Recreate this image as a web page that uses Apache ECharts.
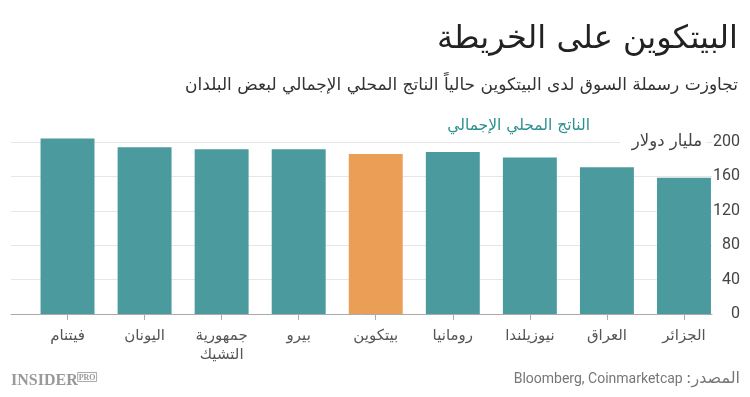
<!DOCTYPE html>
<html>
<head>
<meta charset="utf-8">
<script src="https://cdn.jsdelivr.net/npm/echarts@6/dist/echarts.min.js"></script>
<style>
  html, body { margin: 0; padding: 0; background: #fff; }
  #chart { width: 750px; height: 397px; }
</style>
</head>
<body>
<div id="chart" dir="rtl"></div>
<script>
// الناتج المحلي الإجمالي (مليار دولار) مقابل رسملة البيتكوين
const countries = ['فيتنام', 'اليونان', 'جمهورية\nالتشيك', 'بيرو', 'بيتكوين', 'رومانيا', 'نيوزيلندا', 'العراق', 'الجزائر'];
const gdpValues = [204, 194, 191.5, 191.5, 186, 188.5, 182, 170.5, 158.5];
const highlightName = 'بيتكوين';
const yTicks = [0, 40, 80, 120, 160, 200];

const TEAL = '#4a9a9e';
const ORANGE = '#eb9e55';
const AR_FONT = "'DejaVu Sans', sans-serif";
const NUM_FONT = "Roboto, 'DejaVu Sans', sans-serif";

const chart = echarts.init(document.getElementById('chart'), null, { renderer: 'canvas' });

const yMax = yTicks[yTicks.length - 1];
const yStep = yTicks[1] - yTicks[0];

chart.setOption({
    animation: false,
    backgroundColor: '#fff',
    grid: [
        // wide grid: gridlines, baseline and y labels
        { left: 11, right: 38, top: 142, bottom: 83 },
        // bar grid
        { left: 29, right: 27.5, top: 142, bottom: 83 }
    ],
    xAxis: [
        {
            gridIndex: 0, type: 'value', min: 0, max: 1,
            axisLine: { show: true, lineStyle: { color: '#aaa', width: 1 } },
            axisTick: { show: false }, axisLabel: { show: false }, splitLine: { show: false }
        },
        {
            gridIndex: 1, type: 'category', data: countries,
            axisLine: { show: false },
            axisTick: { show: true, alignWithLabel: true, length: 6, lineStyle: { color: '#aaa' } },
            axisLabel: {
                color: '#555', fontSize: 15, fontFamily: AR_FONT, margin: 13,
                lineHeight: 19, interval: 0, verticalAlign: 'top'
            },
            splitLine: { show: false }
        }
    ],
    yAxis: [
        {
            gridIndex: 0, type: 'value', position: 'right', min: 0, max: yMax, interval: yStep,
            axisLine: { show: false }, axisTick: { show: false },
            axisLabel: { color: '#444', fontSize: 16, fontFamily: NUM_FONT, align: 'right', margin: 28 },
            splitLine: { show: true, lineStyle: { color: '#e6e6e6', width: 1 } }
        },
        {
            gridIndex: 1, type: 'value', min: 0, max: yMax, interval: yStep, show: false,
            splitLine: { show: false }
        }
    ],
    series: [{
        type: 'bar',
        xAxisIndex: 1, yAxisIndex: 1,
        clip: false,
        barWidth: '70%',
        data: countries.map((c, i) => ({
            value: gdpValues[i],
            itemStyle: { color: c === highlightName ? ORANGE : TEAL }
        }))
    }],
    graphic: [
        {
            type: 'text', right: 12, top: 24, z: 10,
            style: { text: 'البيتكوين على الخريطة', fill: '#222', font: "32px " + AR_FONT }
        },
        {
            type: 'text', right: 12, top: 77, z: 10,
            style: { text: 'تجاوزت رسملة السوق لدى البيتكوين حالياً الناتج المحلي الإجمالي لبعض البلدان', fill: '#333', font: "17px " + AR_FONT }
        },
        {
            type: 'text', right: 160, top: 118, z: 10,
            style: { text: 'الناتج المحلي الإجمالي', fill: '#2c9090', font: "15.5px " + AR_FONT }
        },
        {
            type: 'text', x: 706, y: 142, z: 10,
            style: {
                text: 'مليار دولار', fill: '#444', font: "16.5px " + AR_FONT,
                align: 'right', verticalAlign: 'middle',
                backgroundColor: '#fff', padding: [2, 4, 2, 12]
            }
        },
        {
            // rich segments are laid out left to right, so the Arabic part goes last
            type: 'text', right: 10, top: 371, z: 10,
            style: {
                text: '{en|Bloomberg, Coinmarketcap} {ar|المصدر:}',
                rich: {
                    ar: { fill: '#777', font: "16px " + AR_FONT },
                    en: { fill: '#777', font: "14px " + NUM_FONT }
                }
            }
        },
        {
            type: 'text', left: 11, top: 372, z: 10,
            style: {
                text: '{a|INSIDER}{b|PRO}',
                rich: {
                    a: { fill: '#999', font: "bold 16px 'Liberation Serif', serif" },
                    b: { fill: '#999', font: "bold 8px 'Liberation Serif', serif", borderColor: '#aaa', borderWidth: 1, padding: [1, 1, 0, 1], verticalAlign: 'top' }
                }
            }
        }
    ]
});
</script>
</body>
</html>
